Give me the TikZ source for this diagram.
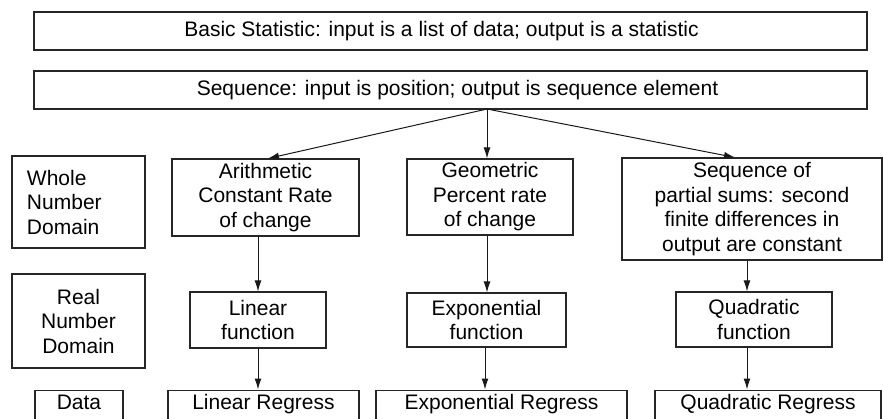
\documentclass[tikz,border=0pt]{standalone}
\usepackage{fontspec}
\setmainfont{Liberation Sans}
\usetikzlibrary{arrows.meta}
\begin{document}
\begin{tikzpicture}[x=1pt,y=-1pt,
  font=\fontsize{21}{24.5}\selectfont,
  box/.style={draw=black!85,line width=1.1pt,align=center,inner sep=0pt},
  lowbox/.style={draw=black!85,line width=1.1pt,anchor=north,inner xsep=0pt,inner ysep=4pt,text height=15pt,text depth=25pt},
  arr/.style={draw=black!90,line width=1pt,-{Latex[length=11pt,width=7pt]}}]
\useasboundingbox (0,0) rectangle (883,418);
\clip (0,0) rectangle (883,418);
\node[box,minimum width=833,minimum height=38] (basic) at (450.5,31) {Basic Statistic: input is a list of data; output is a statistic\hspace*{18pt}};
\node[box,minimum width=833,minimum height=38] (seq) at (450.5,90) {\hspace*{14pt}Sequence: input is position; output is sequence element};
\node[box,minimum width=133,minimum height=92,align=left,text width=103] (whole) at (78.5,202) {Whole\\Number\\Domain};
\node[box,minimum width=187,minimum height=77] (arith) at (265.5,197.5) {Arithmetic\\Constant Rate\\of change};
\node[box,minimum width=166,minimum height=76] (geom) at (490,197) {Geometric\\Percent rate\\of change};
\node[box,minimum width=260,minimum height=102] (psums) at (752,209) {Sequence of\\partial sums: second\\finite differences in\\output are constant};
\node[box,minimum width=133,minimum height=94] (real) at (78.5,321) {Real\\Number\\Domain};
\node[box,minimum width=136,minimum height=56] (linf) at (258,320) {Linear\\function};
\node[box,minimum width=159,minimum height=54] (expf) at (486.5,320) {Exponential\\function};
\node[box,minimum width=156,minimum height=55] (quadf) at (754,319.5) {Quadratic\\function};
\node[lowbox,minimum width=88] (data) at (79,389.5) {Data};
\node[lowbox,minimum width=191] (linr) at (263.5,389.5) {Linear Regress};
\node[lowbox,minimum width=251] (expr) at (501.5,389.5) {Exponential Regress};
\node[lowbox,minimum width=226] (quadr) at (768,389.5) {Quadratic Regress};
\coordinate (src) at (487,109);
\draw[arr] (src) -- ([xshift=2.5pt]arith.north);
\draw[arr] (src) -- (src |- geom.north);
\draw[arr] (src) -- ([xshift=-17pt]psums.north);
\draw[arr] (arith.south -| linf.north) -- (linf.north);
\draw[arr] (linf.south) -- (linf.south |- linr.north);
\draw[arr] (geom.south -| src) -- (src |- expf.north);
\draw[arr] ([xshift=-1.5pt]expf.south) -- ([xshift=-1.5pt]expf.south |- expr.north);
\draw[arr] ([xshift=-5pt]psums.south) -- ([xshift=-5pt]psums.south |- quadf.north);
\draw[arr] ([xshift=-7pt]quadf.south) -- ([xshift=-7pt]quadf.south |- quadr.north);
\end{tikzpicture}
\end{document}
